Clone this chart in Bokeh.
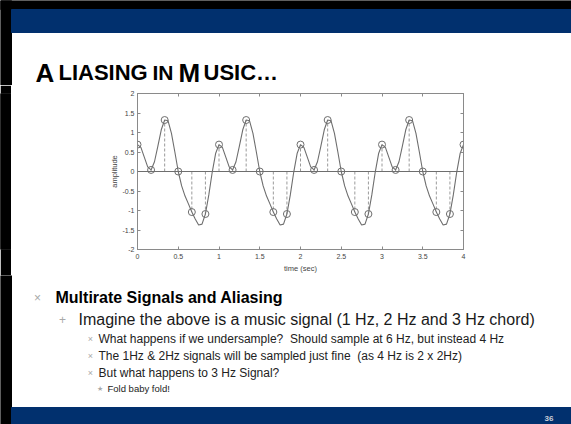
import numpy as np
from bokeh.plotting import figure
from bokeh.layouts import column, row
from bokeh.models import Label, Span, LinearAxis, FixedTicker, Range1d
from bokeh.embed import file_html
from bokeh.resources import INLINE

# ---------------- data ----------------
# continuous signal, one value every 1/24 s from 0 to 4 s
curve_amplitude = [
    0.69, 0.62, 0.37, 0.12, 0.04, 0.25, 0.65, 1.07, 1.32, 1.30, 0.98, 0.50,
    0.00, -0.37, -0.63, -0.83, -1.04, -1.22, -1.37, -1.35, -1.09, -0.60, -0.02, 0.46,
    0.69, 0.62, 0.37, 0.12, 0.04, 0.25, 0.65, 1.07, 1.32, 1.30, 0.98, 0.50,
    0.00, -0.37, -0.63, -0.83, -1.04, -1.22, -1.37, -1.35, -1.09, -0.60, -0.02, 0.46,
    0.69, 0.62, 0.37, 0.12, 0.04, 0.25, 0.65, 1.07, 1.32, 1.30, 0.98, 0.50,
    0.00, -0.37, -0.63, -0.83, -1.04, -1.22, -1.37, -1.35, -1.09, -0.60, -0.02, 0.46,
    0.69, 0.62, 0.37, 0.12, 0.04, 0.25, 0.65, 1.07, 1.32, 1.30, 0.98, 0.50,
    0.00, -0.37, -0.63, -0.83, -1.04, -1.22, -1.37, -1.35, -1.09, -0.60, -0.02, 0.46,
    0.69,
]
curve_step = 1 / 24

# samples taken at 6 Hz
sample_amplitude = [
    0.69, 0.04, 1.32, 0.00, -1.04, -1.09,
    0.69, 0.04, 1.32, 0.00, -1.04, -1.09,
    0.69, 0.04, 1.32, 0.00, -1.04, -1.09,
    0.69, 0.04, 1.32, 0.00, -1.04, -1.09,
    0.69,
]
sample_step = 1 / 6

x_tick_values = [0, 0.5, 1, 1.5, 2, 2.5, 3, 3.5, 4]
x_tick_labels = ["0", "0.5", "1", "1.5", "2", "2.5", "3", "3.5", "4"]
y_tick_values = [-2, -1.5, -1, -0.5, 0, 0.5, 1, 1.5, 2]
y_tick_labels = ["-2", "-1.5", "-1", "-0.5", "0", "0.5", "1", "1.5", "2"]

title_parts = ["A", "LIASING", "IN", "M", "USIC\u2026"]
bullet_1 = "Multirate Signals and Aliasing"
bullet_2 = "Imagine the above is a music signal (1 Hz, 2 Hz and 3 Hz chord)"
bullet_3 = ["What happens if we undersample?\u00a0 Should sample at 6 Hz, but instead 4 Hz",
            "The 1Hz & 2Hz signals will be sampled just fine\u00a0 (as 4 Hz is 2 x 2Hz)",
            "But what happens to 3 Hz Signal?"]
bullet_4 = "Fold baby fold!"
slide_number = "36"

curve_time = np.arange(len(curve_amplitude)) * curve_step
sample_time = np.arange(len(sample_amplitude)) * sample_step

# ---------------- layout constants ----------------
W, H = 571, 424
TOP_H, MID_H = 85, 190
BOT_H = H - TOP_H - MID_H
BAR = 11
FONT = "Liberation Sans"
GRAY = "#6e6e6e"
NAVY = "#01306e"
BUL = "#a8a8a8"


def canvas(width, height, x0, y0, bg="white"):
    """A figure whose frame fills its canvas; data units = page pixels."""
    f = figure(width=width, height=height, x_range=Range1d(x0, x0 + width),
               y_range=Range1d(y0 + height, y0), output_backend="svg",
               toolbar_location=None, x_axis_location=None, y_axis_location=None,
               min_border=0, outline_line_color=None,
               background_fill_color=bg, border_fill_color=bg)
    f.grid.visible = False
    return f


def box(f, l, t, r, b, color):
    f.quad(left=[l], right=[r], top=[t], bottom=[b],
           fill_color=color, fill_alpha=1, line_color=color, line_width=1)


def lab(f, text, x, y, size, bold=False, color="#000000", baseline="middle", align="left"):
    f.add_layout(Label(x=x, y=y, text=text, text_font=FONT, text_font_size=f"{size}px",
                       text_font_style="bold" if bold else "normal",
                       text_color=color, text_baseline=baseline, text_align=align))


# ---------------- top: header band + title ----------------
top = canvas(W, TOP_H, 0, 0)
box(top, 0, 0, W, 9, "#000000")
box(top, 0, 0, BAR, TOP_H, "#000000")
box(top, BAR, 9, W, 32, NAVY)
lab(top, title_parts[0], 35, 72, 26, bold=True, baseline="alphabetic")
lab(top, title_parts[1], 58, 72, 22, bold=True, baseline="alphabetic")
lab(top, title_parts[2], 152, 72, 21, bold=True, baseline="alphabetic")
lab(top, title_parts[3], 178, 72, 26, bold=True, baseline="alphabetic")
lab(top, title_parts[4], 203, 72, 22, bold=True, baseline="alphabetic")

# ---------------- middle: the chart ----------------
side = canvas(BAR, MID_H, 0, TOP_H, bg="#000000")
box(side, 0, TOP_H, BAR, TOP_H + MID_H, "#000000")

p = figure(width=W - BAR, height=MID_H, x_range=Range1d(0, 4), y_range=Range1d(-2, 2),
           output_backend="svg", toolbar_location=None,
           min_border_left=137 - BAR, min_border_right=W - 463,
           min_border_top=93 - TOP_H, min_border_bottom=TOP_H + MID_H - 249,
           background_fill_color="white", border_fill_color="white")
p.grid.visible = False
p.outline_line_color = "#8a8a8a"

for ax in (p.xaxis[0], p.yaxis[0]):
    ax.major_tick_in = 3
    ax.major_tick_out = 0
    ax.minor_tick_line_color = None
    ax.axis_line_color = "#8a8a8a"
    ax.major_tick_line_color = "#8a8a8a"
    ax.major_label_text_font = FONT
    ax.major_label_text_font_size = "7px"
    ax.major_label_text_color = "#444444"
    ax.axis_label_text_font = FONT
    ax.axis_label_text_font_size = "7.5px"
    ax.axis_label_text_font_style = "normal"
    ax.axis_label_text_color = "#444444"

p.xaxis.ticker = FixedTicker(ticks=x_tick_values)
p.xaxis.major_label_overrides = dict(zip(x_tick_values, x_tick_labels))
p.xaxis.major_label_standoff = 4
p.xaxis.axis_label = "time (sec)"
p.xaxis.axis_label_standoff = 2

p.yaxis.ticker = FixedTicker(ticks=y_tick_values)
p.yaxis.major_label_overrides = dict(zip(y_tick_values, y_tick_labels))
p.yaxis.major_label_standoff = 3
p.yaxis.axis_label = "amplitude"
p.yaxis.axis_label_standoff = 0

for loc, tv in (("above", x_tick_values), ("right", y_tick_values)):
    ax = LinearAxis(ticker=FixedTicker(ticks=tv), major_tick_in=3, major_tick_out=0,
                    minor_tick_line_color=None, axis_line_color="#8a8a8a",
                    major_tick_line_color="#8a8a8a", major_label_text_alpha=0,
                    major_label_text_font_size="1px", major_label_standoff=0)
    p.add_layout(ax, loc)

p.add_layout(Span(location=0, dimension="width", line_color=GRAY, line_width=1))
p.segment(x0=sample_time, y0=0, x1=sample_time, y1=sample_amplitude,
          line_color="#9a9a9a", line_dash="3 2", line_width=1)
p.line(curve_time, curve_amplitude, line_color=GRAY, line_width=1.1)
p.scatter(sample_time, sample_amplitude, marker="circle", size=7,
          fill_color=None, line_color=GRAY, line_width=1)

# ---------------- bottom: bullets + footer band ----------------
y0 = TOP_H + MID_H
bot = canvas(W, BOT_H, 0, y0)
box(bot, 0, y0, BAR, H, "#000000")
box(bot, BAR, 407, W, H, NAVY)

lab(bot, "\u00d7", 37, 297, 12, color=BUL, align="center")
lab(bot, bullet_1, 55, 297, 16, bold=True)
lab(bot, "+", 62, 319, 12, color=BUL, align="center")
lab(bot, bullet_2, 78, 319, 16, color="#1a1a1a")
for i, s in enumerate(bullet_3):
    lab(bot, "\u00d7", 90, 338 + 17 * i, 9, color=BUL, align="center")
    lab(bot, s, 98, 338 + 17 * i, 12, color="#222222")
lab(bot, "\u2605", 99, 388, 7, color=BUL, align="center")
lab(bot, bullet_4, 107, 388, 9.5, color="#222222")
lab(bot, slide_number, 553, 418, 8, bold=True, color="#c9cdd8", align="right")

layout = column(top, row(side, p, spacing=0), bot, spacing=0)
open("out.html", "w").write(file_html(layout, INLINE))
